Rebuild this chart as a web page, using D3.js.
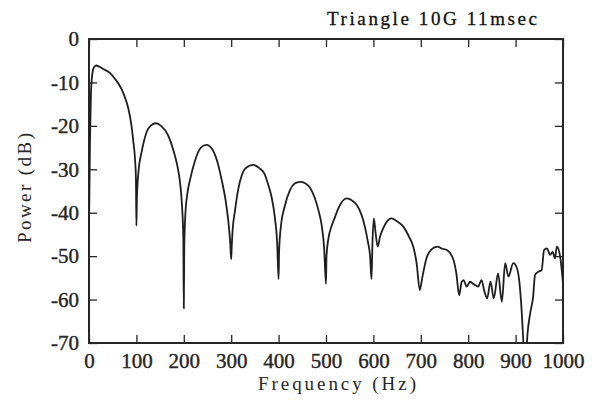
<!DOCTYPE html>
<html>
<head>
<meta charset="utf-8">
<script src="https://cdn.jsdelivr.net/npm/d3@7"></script>
<style>
  body { margin: 0; background: #fff; }
  svg { display: block; }
</style>
</head>
<body>
<div id="my_dataviz"></div>
<script>
// frequency (Hz) and power (dB)
const freqs = [0, 2, 4, 7, 10, 15, 22, 30, 44, 55, 69, 76, 83, 89, 93.5, 97, 99, 100,
  101, 104, 111, 116, 122, 131, 141, 152, 167, 178, 186, 192, 196, 199, 200,
  201, 203, 207, 213, 224, 236, 248, 260, 270, 280, 288, 294, 298, 300,
  301, 303, 308, 315, 322, 330, 347, 360, 370, 378, 385, 392, 397, 400,
  401, 405, 413, 424, 434, 445, 456, 466, 476, 484, 491, 496, 500,
  501, 505, 512, 519, 526, 535, 544, 555, 565, 575, 582, 588, 593, 596,
  598, 601, 604, 609, 614, 621, 630, 638, 650, 663, 675, 684, 691, 698,
  703, 712, 722, 735, 745, 755, 769, 775, 781, 786, 790, 797, 804, 812, 821, 828, 834, 840,
  847, 854, 863, 871, 878, 885, 895, 902, 908, 913, 916, 918, 922, 925, 931, 937,
  941, 948, 955, 960, 966, 973, 978, 983, 987, 994, 1000];
const power = [-44, -24, -13, -8, -6.6, -6.1, -6.4, -6.9, -7.8, -9.2, -11.6, -13.5, -16, -19.5, -23.6, -27.5, -32, -43,
  -37, -31, -26, -23.5, -21.3, -19.9, -19.4, -20, -22.2, -25.6, -29, -33, -38, -46, -62,
  -48, -41, -36, -32.5, -27.9, -25, -24.4, -25.4, -28, -32.5, -37, -42, -47, -50.7,
  -48, -44, -39.5, -34.5, -31.5, -29.8, -29, -29.8, -31, -33.5, -36.3, -41, -47, -55.3,
  -49, -43, -38.5, -34.8, -33.3, -32.9, -33.2, -34.2, -36.5, -39.4, -43, -48, -56.4,
  -50, -46, -43, -41, -39, -37.3, -36.7, -37.2, -38.2, -40.5, -43.2, -46.5, -50, -55.3,
  -47, -41.3, -44, -47.8, -45.5, -43.5, -41.8, -41.3, -42, -43.2, -45.5, -47.8, -51.5, -57.8,
  -55, -50.5, -48.5, -47.8, -48.3, -48.6, -50.9, -54, -59, -56, -55.5, -57, -55.9, -56.5, -57, -55.5, -58, -59.7,
  -55.9, -59.7, -54, -60.5, -51.6, -54.7, -51.6, -52.5, -56, -63, -69, -73, -73, -68, -63, -59.3,
  -54.3, -53.6, -53.2, -48.6, -48.2, -49.7, -49, -50.5, -47.8, -50.1, -56.3];

const xTicks = [0, 100, 200, 300, 400, 500, 600, 700, 800, 900, 1000];
const yTicks = [0, -10, -20, -30, -40, -50, -60, -70];

const margin = {top: 39, right: 33, bottom: 60, left: 89},
    width = 596 - margin.left - margin.right,
    height = 403 - margin.top - margin.bottom;

const serif = "'Liberation Serif', 'Times New Roman', 'DejaVu Serif', serif";
const ink = "#262626";

const svg = d3.select("#my_dataviz")
  .append("svg")
    .attr("width", 596)
    .attr("height", 403)
  .append("g")
    .attr("transform", `translate(${margin.left},${margin.top})`);

const x = d3.scaleLinear().domain([0, 1000]).range([0, width]);
const y = d3.scaleLinear().domain([-70, 0]).range([height, 0]);

// clip so the dip below -70 is cut at the frame
svg.append("clipPath")
    .attr("id", "plotclip")
  .append("rect")
    .attr("width", width)
    .attr("height", height);

// tick marks point inward on all four sides
const tickLen = 8;
const plain = d => String(d);
const styleAxis = function(g) {
  g.select(".domain").remove();
  g.selectAll(".tick line").attr("stroke", ink).attr("stroke-width", 1.3);
  g.selectAll(".tick text")
    .attr("fill", ink)
    .attr("stroke", ink)
    .attr("stroke-width", 0.4)
    .attr("font-family", serif)
    .attr("font-size", 21);
};

svg.append("g")
    .attr("transform", `translate(0,${height})`)
    .call(d3.axisBottom(x).tickValues(xTicks).tickSize(-tickLen).tickFormat(plain))
    .call(styleAxis)
    .selectAll(".tick text").attr("dy", null).attr("y", 25);

svg.append("g")
    .call(d3.axisTop(x).tickValues(xTicks).tickSize(-tickLen).tickFormat(""))
    .call(styleAxis);

svg.append("g")
    .call(d3.axisLeft(y).tickValues(yTicks).tickSize(-tickLen).tickFormat(plain))
    .call(styleAxis)
    .selectAll(".tick text").attr("x", -10);

svg.append("g")
    .attr("transform", `translate(${width},0)`)
    .call(d3.axisRight(y).tickValues(yTicks).tickSize(-tickLen).tickFormat(""))
    .call(styleAxis);

// frame
svg.append("rect")
    .attr("width", width)
    .attr("height", height)
    .attr("fill", "none")
    .attr("stroke", ink)
    .attr("stroke-width", 2);

// spectrum line
const line = d3.line()
    .x((d, i) => x(freqs[i]))
    .y((d, i) => y(power[i]))
    .curve(d3.curveMonotoneX);

svg.append("path")
    .datum(freqs)
    .attr("clip-path", "url(#plotclip)")
    .attr("d", line)
    .attr("fill", "none")
    .attr("stroke", "#1e1e1e")
    .attr("stroke-width", 1.8)
    .attr("stroke-linejoin", "round");

// labels, stretched to the width of the typewriter lettering
svg.append("text")
    .attr("x", 248)
    .attr("y", 351)
    .attr("text-anchor", "middle")
    .attr("fill", ink)
    .attr("font-family", serif)
    .attr("font-size", 19)
    .attr("textLength", 158)
    .attr("lengthAdjust", "spacing")
    .text("Frequency (Hz)");

svg.append("text")
    .attr("transform", `translate(-58,${height / 2 - 3}) rotate(-90)`)
    .attr("text-anchor", "middle")
    .attr("fill", ink)
    .attr("font-family", serif)
    .attr("font-size", 19)
    .attr("textLength", 110)
    .attr("lengthAdjust", "spacing")
    .text("Power (dB)");

svg.append("text")
    .attr("x", 448)
    .attr("y", -14)
    .attr("text-anchor", "end")
    .attr("fill", "#111")
    .attr("stroke", "#111")
    .attr("stroke-width", 0.3)
    .attr("font-family", serif)
    .attr("font-size", 19)
    .attr("textLength", 210)
    .attr("lengthAdjust", "spacing")
    .text("Triangle 10G 11msec");
</script>
</body>
</html>
